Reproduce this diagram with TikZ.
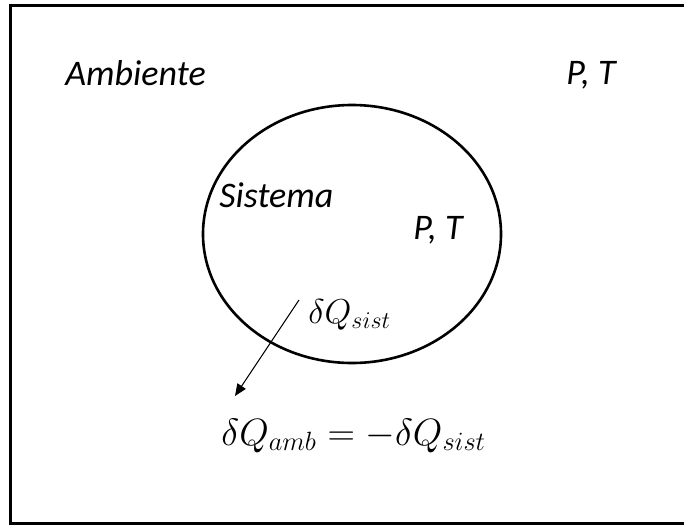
\documentclass[tikz,border=0pt]{standalone}
\usepackage{fontspec}
\setmainfont{Carlito}
\usetikzlibrary{arrows.meta}

\tikzset{
    label text/.style={font=\fontsize{18}{20}\selectfont\itshape, inner sep=0pt, anchor=base west},
    math text/.style={font=\fontsize{18}{20}\selectfont, inner sep=0pt, anchor=base west}
}

\begin{document}
\begin{tikzpicture}[x=0.5pt, y=-0.5pt]

    % Fix the page size
    \useasboundingbox (0,0) rectangle (684,525);

    % Draw the frame (surroundings)
    \draw[line width=1.5pt] (10,5) rectangle (688,523.5);

    % Draw the system boundary
    \draw[line width=1.3pt] (352,234) ellipse [x radius=149, y radius=129];

    % Labels of surroundings and system
    \node[label text] (amb) at (65,85) {Ambiente};
    \node[label text] (ptamb) at (566,84) {P, T};
    \node[label text] (sis) at (219,207) {Sistema};
    \node[label text] (ptsis) at (413,239) {P, T};

    % Heat leaving the system
    \coordinate (Qs) at (299,300);
    \coordinate (Qa) at (235,396);
    \draw[line width=0.5pt, -{Triangle[length=6pt, width=5pt]}] (Qs) -- (Qa);

    \node[math text] (qsist) at (308,323) {$\delta Q_{sist}$};
    \node[math text] (qamb) at (221,445) {\scalebox{1.1}{$\delta Q_{amb} = -\delta Q_{sist}$}};

\end{tikzpicture}
\end{document}
